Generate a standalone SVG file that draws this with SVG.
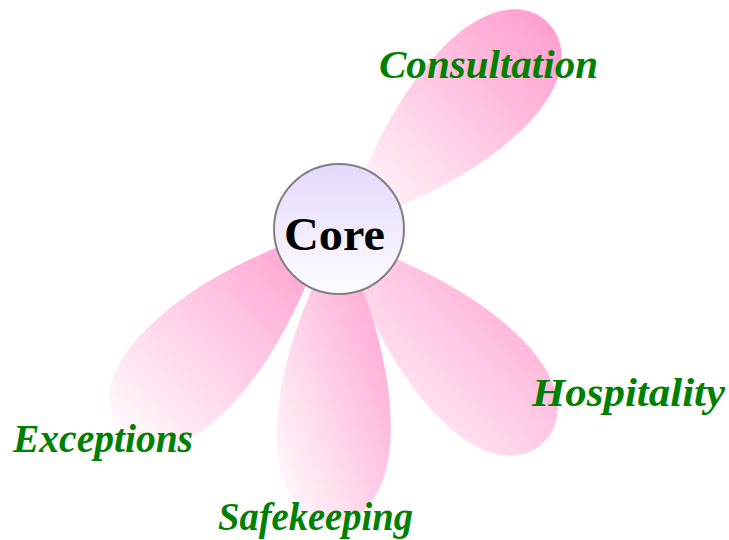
<svg xmlns="http://www.w3.org/2000/svg" width="729" height="540" viewBox="0 0 729 540">
  <defs>
    <linearGradient id="petalGrad" x1="1" y1="0" x2="0" y2="1">
      <stop offset="0" stop-color="#ff99cc"/>
      <stop offset="1" stop-color="#ffffff"/>
    </linearGradient>
    <linearGradient id="coreGrad" x1="0" y1="0" x2="0" y2="1">
      <stop offset="0" stop-color="#e4d8fb"/>
      <stop offset="1" stop-color="#fefdff"/>
    </linearGradient>
    <style>
      .petal { fill: url(#petalGrad); stroke: none; }
      .label { font-family: "Liberation Serif", "Times New Roman", serif; font-style: italic; font-weight: bold; font-size: 41px; fill: #008000; }
      .core { fill: url(#coreGrad); stroke: #808080; stroke-width: 2; }
      .coreText { font-family: "Liberation Serif", "Times New Roman", serif; font-weight: bold; font-size: 46px; fill: #000000; }
    </style>
  </defs>
  <rect width="729" height="540" fill="#ffffff"/>
  <g id="connectors">
    <path id="petal-consultation" class="petal" d="M343,228 C357.8,186.3 387.5,102.8 444.1,46.3 C488.0,2.4 526.8,1.7 548.1,22.9 C569.3,44.2 568.6,83.0 524.7,126.9 C468.2,183.5 384.7,213.2 343,228 Z"/>
    <path id="petal-hospitality" class="petal" d="M339,237 C380.7,251.8 464.2,281.5 520.7,338.1 C564.6,382.0 565.3,420.8 544.1,442.1 C522.8,463.3 484.0,462.6 440.1,418.7 C383.5,362.2 353.8,278.7 339,237 Z"/>
    <path id="petal-safekeeping" class="petal" d="M339,232 C356.9,272.5 392.8,353.5 390.7,433.4 C389.1,495.4 361.4,522.7 331.4,521.9 C301.4,521.1 275.2,492.4 276.8,430.5 C278.9,350.5 319.0,271.5 339,232 Z"/>
    <path id="petal-exceptions" class="petal" d="M328,228 C313.2,269.7 283.5,353.2 226.9,409.7 C183.0,453.6 144.2,454.3 122.9,433.1 C101.7,411.8 102.4,373.0 146.3,329.1 C202.8,272.5 286.3,242.8 328,228 Z"/>
  </g>
  <g id="core">
    <circle class="core" cx="339" cy="229" r="65"/>
    <text class="coreText" x="284" y="250" textLength="101" lengthAdjust="spacingAndGlyphs">Core</text>
  </g>
  <g id="consultation">
    <text class="label" x="379" y="78" textLength="219" lengthAdjust="spacingAndGlyphs">Consultation</text>
  </g>
  <g id="hospitality">
    <text class="label" x="532" y="406" textLength="193" lengthAdjust="spacingAndGlyphs">Hospitality</text>
  </g>
  <g id="exceptions">
    <text class="label" x="13" y="452" textLength="180" lengthAdjust="spacingAndGlyphs">Exceptions</text>
  </g>
  <g id="safekeeping">
    <text class="label" x="218" y="530" textLength="195" lengthAdjust="spacingAndGlyphs">Safekeeping</text>
  </g>
</svg>
